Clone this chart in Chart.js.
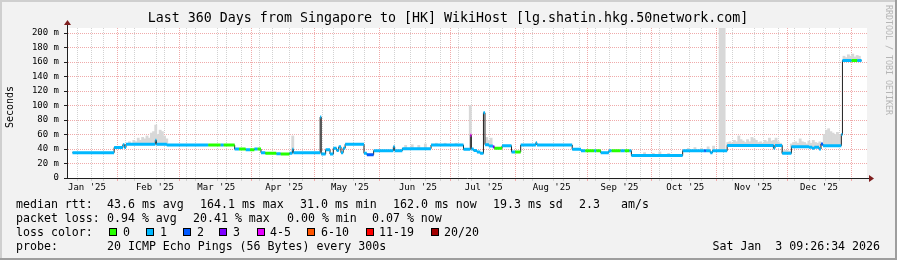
<!DOCTYPE html>
<html>
<head>
<meta charset="utf-8">
<script src="https://cdn.jsdelivr.net/npm/chart.js@4"></script>
<style>
  html, body { margin: 0; padding: 0; background: #f2f2f2; }
  canvas { display: block; }
</style>
</head>
<body>
<canvas id="myChart" width="897" height="260" style="width:897px;height:260px"></canvas>
<script>
// graph covers 360 days ending Sat Jan 3 09:26:34 2026; x values are days since the start
const startTime = new Date(2025, 0, 8, 9, 26, 34);
const spanDays = 360;

const monthLabels = ["Jan '25", "Feb '25", "Mar '25", "Apr '25", "May '25", "Jun '25",
                     "Jul '25", "Aug '25", "Sep '25", "Oct '25", "Nov '25", "Dec '25"];
const yTickValues = [0, 10, 20, 30, 40, 50, 60, 70, 80, 90, 100, 110, 120, 130, 140, 150, 160, 170, 180, 190, 200];

// median rtt (ms) as steps: value holds from stepDay[i] until stepDay[i+1]
// stepLoss = loss colour bucket of that step (index into lossColors)
const stepDay = [
  0, 19, 23, 23.7, 24.4, 37.8, 38.3, 43,
  62, 67.5, 69, 74, 76, 79, 81, 83, 84.5,
  86, 88, 93, 95, 99, 100.3, 100.8,
  113, 113.5, 115.5, 117.5, 119, 120.5, 121.5, 122.5, 123.5, 124.4,
  133, 134.3, 137.4, 146.4, 147, 150.5, 163.6,
  178.4, 181.5, 182, 183, 184.5, 186, 187.5, 188.2, 190, 191.8, 192.5, 196, 200.3, 202, 204.5,
  211.4, 211.9, 228, 232, 234, 238, 239, 241, 244.7, 246, 250, 252, 254, 255,
  278.4, 288.2, 289, 291, 292, 298.7, 319.9, 320.5, 323.8, 328,
  336, 337.5, 338.5, 340.6, 341.5, 342.4, 350.8, 351.3, 355.5, 358, 360
];
const stepMs = [
  35, 42, 46, 42, 46.5, 52, 46.5, 45.5,
  45.5, 45.5, 45.5, 40, 40, 39, 39, 40, 40,
  35, 34, 33.5, 33, 34, 39.5, 35,
  84, 33, 39, 33, 41, 38, 43, 35, 41, 46.5,
  34, 32, 37.7, 43, 37.7, 40.5, 45.5,
  39.5, 59, 40, 38, 36, 34, 90, 46, 44, 43, 41, 44.5, 36, 36, 45.5,
  48.7, 45.5, 39.5, 37.7, 37.7, 37.7, 37.7, 35, 37.7, 37.7, 37.7, 37.7, 37.7, 31,
  37.7, 37.7, 37.7, 35, 37.7, 45, 41, 45, 34, 43,
  42.5, 41, 42.5, 40, 47, 44.6, 60, 162, 162, 162, 162
];
const stepLoss = [
  1, 1, 1, 1, 1, 1, 1, 1,
  0, 1, 0, 1, 0, 1, 0, 1, 0,
  1, 0, 1, 0, 1, 1, 1,
  1, 1, 1, 1, 1, 1, 1, 1, 1, 1,
  1, 2, 1, 1, 1, 1, 1,
  1, 4, 1, 1, 1, 1, 1, 1, 1, 3, 0, 1, 1, 0, 1,
  1, 1, 1, 1, 0, 1, 0, 1, 1, 0, 1, 0, 1, 1,
  1, 2, 1, 1, 1, 1, 1, 1, 1, 1,
  1, 1, 1, 1, 2, 1, 1, 1, 0, 1, null
];

// smoke: highest ping (ms) seen around a day
const smokeDay = [
  25, 26, 27, 28, 29, 30, 31, 32, 33, 34, 35, 36, 37, 38, 39, 40, 41, 42, 43,
  100.5, 152, 155, 158, 161, 166, 170, 175, 181.5, 189, 190, 191,
  261, 265, 268, 272, 281, 284, 287, 290, 292.5, 295.5, 296.5, 297.3,
  299, 300, 301, 302, 303, 304, 305, 306, 307, 308, 309, 310, 311, 312, 313, 314, 315,
  316, 317, 318, 319, 320, 321, 322, 323, 324, 325, 326, 327, 328, 329, 330, 331, 332,
  333, 334, 335, 336, 337, 338, 339, 340, 341,
  343, 344, 345, 346, 347, 348, 349, 350,
  352, 353, 354, 355, 356, 357, 358, 359
];
const smokeTop = [
  47, 50, 48, 52, 50, 55, 52, 56, 54, 58, 55, 62, 64, 73, 60, 66, 64, 58, 54,
  58, 45, 46, 45, 47, 48, 48, 48, 100, 56, 52, 55,
  35, 34, 36, 34, 41, 42, 41, 43, 44, 260, 260, 260,
  49, 50, 48, 52, 50, 58, 53, 51, 49, 53, 50, 56, 54, 52, 49, 50, 48,
  52, 50, 55, 51, 52, 55, 50, 48, 37, 38, 38, 37, 47, 49, 50, 48, 54,
  50, 49, 47, 51, 48, 52, 49, 48, 50,
  60, 66, 68, 64, 62, 60, 63, 59,
  168, 166, 170, 168, 171, 167, 169, 168
];

const lossColors = ['#26ff00', '#00b8ff', '#0059ff', '#7e00ff', '#e600ff', '#ff5500', '#ff0000', '#a10000'];
const lossNames = ['0', '1', '2', '3', '4-5', '6-10', '11-19', '20/20'];

const rttStats = ['43.6 ms avg', '164.1 ms max', '31.0 ms min', '162.0 ms now', '19.3 ms sd', '2.3', 'am/s'];
const lossStats = ['0.94 % avg', '20.41 % max', '0.00 % min', '0.07 % now'];

const GRID = '#d2d2d2';
const MGRID = '#f0aaaa';
const MONO = '"DejaVu Sans Mono"';

const dayOf = (dt) => (dt - startTime) / 86400000;

// x grid: weeks (minor), month starts (major), mid-month labels
const xInfo = new Map();
const mark = (v, key, val) => { const o = xInfo.get(v) || {}; o[key] = val; xInfo.set(v, o); };
for (let d = new Date(2025, 0, 12); dayOf(d) < spanDays; d.setDate(d.getDate() + 7)) mark(dayOf(d), 'week', true);
for (let m = 1; m <= 12; m++) mark(dayOf(new Date(2025, m, 1)), 'month', true);
monthLabels.forEach((l, m) => mark(dayOf(new Date(2025, m, 15)), 'label', l));
const xTickValues = [...xInfo.keys()].filter(v => v >= 0 && v <= spanDays).sort((a, b) => a - b);

function medianAt(day) {
  let v = stepMs[0];
  for (let i = 0; i < stepDay.length; i++) if (stepDay[i] <= day) v = stepMs[i];
  return v;
}

// one thick line per loss colour, horizontal pieces only
function lossLine(level) {
  const pts = [];
  for (let i = 0; i < stepDay.length - 1; i++) {
    if (stepLoss[i] !== level) continue;
    pts.push({ x: stepDay[i], y: stepMs[i] }, { x: stepDay[i + 1], y: stepMs[i] }, { x: stepDay[i + 1], y: null });
  }
  return pts;
}

const lossSets = lossColors.map((c, i) => ({
  type: 'line', data: lossLine(i), borderColor: c, borderWidth: 3,
  pointRadius: 0, spanGaps: false, borderCapStyle: 'butt', order: 0
}));

const datasets = lossSets.concat([
  {
    type: 'line',
    data: stepDay.map((d, i) => ({ x: d, y: stepMs[i] })),
    stepped: true, borderColor: '#202020', borderWidth: 1, pointRadius: 0, order: 1
  },
  {
    type: 'bar',
    data: smokeDay.map((d, i) => ({ x: d, y: [medianAt(d), smokeTop[i]] })),
    backgroundColor: '#d8d8d8', borderWidth: 0, barThickness: 2.2, grouped: false, clip: 0, order: 2
  }
]);

const rrdFrame = {
  id: 'rrdFrame',
  beforeDraw(chart) {
    const { ctx, chartArea: a } = chart;
    ctx.save();
    ctx.fillStyle = '#f2f2f2';
    ctx.fillRect(0, 0, chart.width, chart.height);
    ctx.fillStyle = '#ffffff';
    ctx.fillRect(a.left, a.top, a.right - a.left, a.bottom - a.top);
    ctx.restore();
  },
  afterDraw(chart) {
    const { ctx, chartArea: a } = chart;
    ctx.save();

    // axis extensions and arrows
    ctx.strokeStyle = '#1f1f1f';
    ctx.lineWidth = 1;
    ctx.beginPath();
    ctx.moveTo(a.left + 0.5, a.top);
    ctx.lineTo(a.left + 0.5, a.top - 4);
    ctx.moveTo(a.right, a.bottom + 0.5);
    ctx.lineTo(a.right + 3, a.bottom + 0.5);
    ctx.stroke();
    ctx.fillStyle = '#7f1f1f';
    ctx.beginPath();
    ctx.moveTo(a.left - 3, a.top - 3);
    ctx.lineTo(a.left + 4, a.top - 3);
    ctx.lineTo(a.left + 0.5, a.top - 8);
    ctx.closePath();
    ctx.fill();
    ctx.beginPath();
    ctx.moveTo(a.right + 2, a.bottom - 3);
    ctx.lineTo(a.right + 2, a.bottom + 4);
    ctx.lineTo(a.right + 7, a.bottom + 0.5);
    ctx.closePath();
    ctx.fill();

    // title
    ctx.fillStyle = '#000';
    ctx.textBaseline = 'middle';
    ctx.textAlign = 'center';
    ctx.font = '13.3px ' + MONO;
    ctx.fillText('Last 360 Days from Singapore to [HK] WikiHost [lg.shatin.hkg.50network.com]', 448, 18.5);

    // vertical label
    ctx.save();
    ctx.translate(10, 107);
    ctx.rotate(-Math.PI / 2);
    ctx.font = '10px ' + MONO;
    ctx.fillText('Seconds', 0, 0);
    ctx.restore();

    // watermark
    ctx.save();
    ctx.translate(888, 5);
    ctx.rotate(Math.PI / 2);
    ctx.textAlign = 'left';
    ctx.fillStyle = '#b5b5b5';
    ctx.font = '8.3px ' + MONO;
    ctx.fillText('RRDTOOL / TOBI OETIKER', 0, 0);
    ctx.restore();

    // legend
    ctx.textAlign = 'left';
    ctx.font = '11.6px ' + MONO;
    ctx.fillStyle = '#000';
    const row1 = [16, 107, 200, 300, 393, 493, 579, 621];
    ctx.fillText('median rtt:', row1[0], 204.5);
    rttStats.forEach((t, i) => ctx.fillText(t, row1[i + 1], 204.5));
    const row2 = [16, 107, 193, 287, 372];
    ctx.fillText('packet loss:', row2[0], 218.5);
    lossStats.forEach((t, i) => ctx.fillText(t, row2[i + 1], 218.5));
    ctx.fillText('loss color:', 16, 232.5);
    const boxX = [109, 146, 183, 219, 257, 307, 366, 431];
    const nameX = [123, 160, 197, 233, 270, 321, 379, 444];
    lossColors.forEach((c, i) => {
      ctx.fillStyle = c;
      ctx.fillRect(boxX[i], 228, 8, 8);
      ctx.strokeStyle = '#000';
      ctx.strokeRect(boxX[i] + 0.5, 228.5, 7, 7);
      ctx.fillStyle = '#000';
      ctx.fillText(lossNames[i], nameX[i], 232.5);
    });
    ctx.fillText('probe:', 16, 246.5);
    ctx.fillText('20 ICMP Echo Pings (56 Bytes) every 300s', 107, 246.5);
    ctx.textAlign = 'right';
    ctx.fillText('Sat Jan  3 09:26:34 2026', 880, 246.5);

    // 3d frame
    ctx.fillStyle = '#cfcfcf';
    ctx.fillRect(0, 0, chart.width, 2);
    ctx.fillRect(0, 0, 2, chart.height);
    ctx.fillStyle = '#9e9e9e';
    ctx.fillRect(0, chart.height - 2, chart.width, 2);
    ctx.fillRect(chart.width - 2, 0, 2, chart.height);
    ctx.restore();
  }
};

new Chart(document.getElementById('myChart'), {
  type: 'line',
  data: { datasets: datasets },
  options: {
    responsive: false,
    animation: false,
    devicePixelRatio: 1,
    events: [],
    layout: { padding: { left: 0, top: 28, right: 30, bottom: 0 } },
    plugins: { legend: { display: false }, tooltip: { enabled: false }, title: { display: false } },
    scales: {
      x: {
        type: 'linear', min: 0, max: spanDays,
        afterBuildTicks: (s) => { s.ticks = xTickValues.map(v => ({ value: v })); },
        afterFit: (s) => { s.height = 82; },
        ticks: {
          autoSkip: false, maxRotation: 0, padding: 1, color: '#000',
          font: { family: 'DejaVu Sans Mono', size: 9 },
          callback: (v) => { const o = xInfo.get(v); return o && o.label ? o.label : ''; }
        },
        grid: {
          lineWidth: 1, tickLength: 3,
          color: (c) => { const o = c.tick && xInfo.get(c.tick.value); return !o ? 'transparent' : o.month ? MGRID : o.week ? GRID : 'transparent'; },
          tickColor: (c) => { const o = c.tick && xInfo.get(c.tick.value); return !o ? 'transparent' : o.month ? MGRID : o.week ? GRID : 'transparent'; }
        },
        border: { color: '#1f1f1f', width: 1, dash: [1, 1] }
      },
      y: {
        min: 0, max: 206.9,
        afterBuildTicks: (s) => { s.ticks = yTickValues.map(v => ({ value: v })); },
        afterFit: (s) => { s.width = 67; },
        ticks: {
          padding: 5, color: '#000',
          font: { family: 'DejaVu Sans Mono', size: 9 },
          callback: (v) => v % 20 ? '' : (v ? v + ' m' : '0')
        },
        grid: {
          lineWidth: 1, tickLength: 3,
          color: (c) => c.tick && c.tick.value % 20 === 0 ? MGRID : GRID,
          tickColor: (c) => c.tick && c.tick.value % 20 === 0 ? '#1f1f1f' : 'transparent'
        },
        border: { color: '#1f1f1f', width: 1, dash: [1, 1] }
      }
    }
  },
  plugins: [rrdFrame]
});
</script>
</body>
</html>
